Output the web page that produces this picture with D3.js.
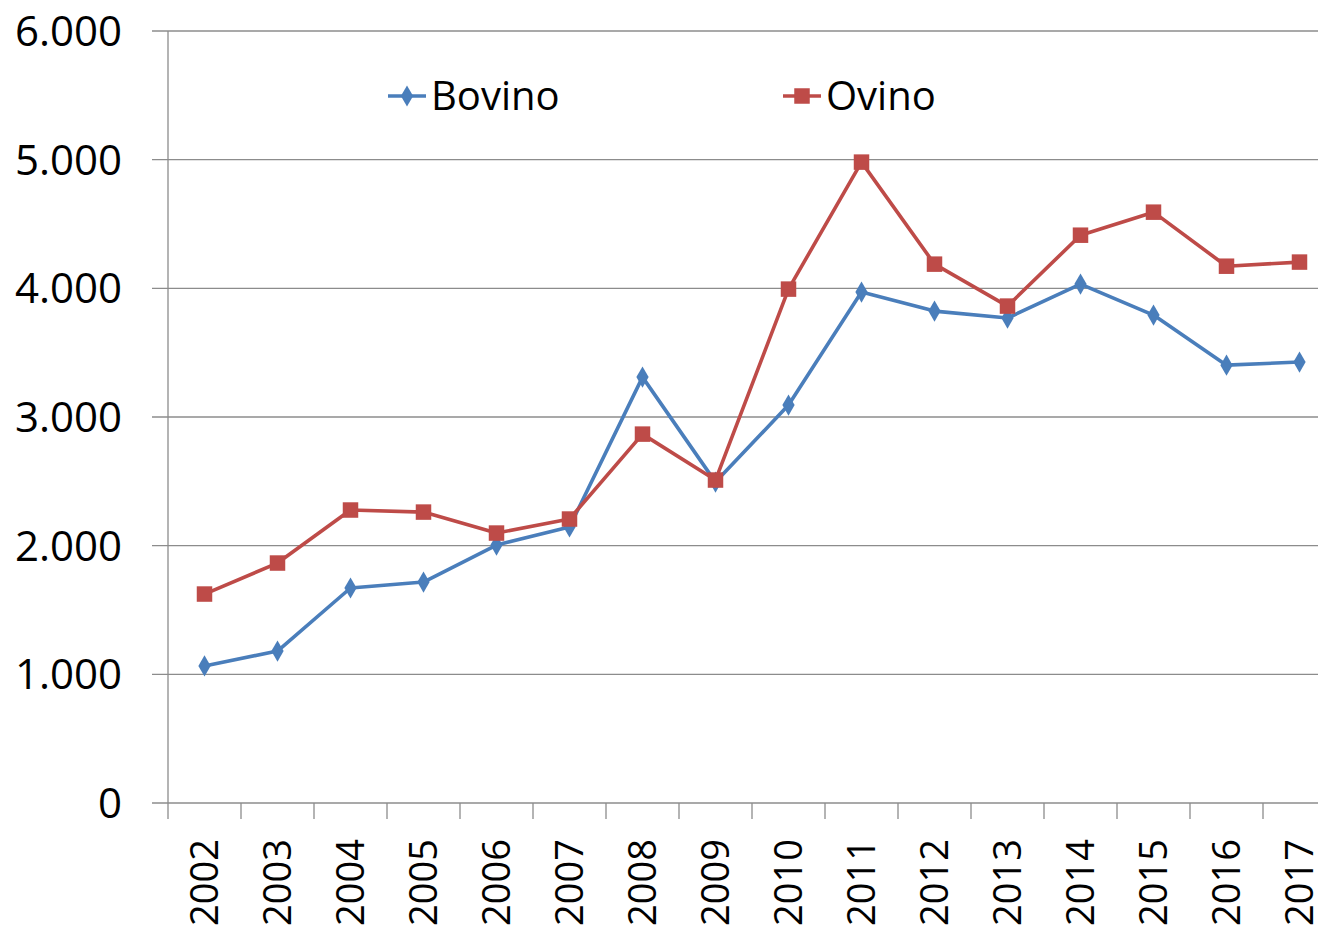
<!DOCTYPE html>
<html><head><meta charset="utf-8">
<script src="https://cdn.jsdelivr.net/npm/d3@7"></script>
<style>body{margin:0;background:#fff}svg{display:block}</style>
</head><body>
<svg id="c" width="1318" height="932"></svg>
<script>
const years = ["2002","2003","2004","2005","2006","2007","2008","2009","2010","2011","2012","2013","2014","2015","2016","2017"];
const bovino = [1065,1181,1671,1717,2005,2145,3310,2494,3093,3971,3823,3769,4033,3792,3403,3427];
const ovino = [1624,1865,2277,2261,2098,2207,2867,2510,3994,4981,4188,3862,4413,4592,4172,4204];
const yTicks = [0,1000,2000,3000,4000,5000,6000];
const seriesNames = ["Bovino","Ovino"];

const svg = d3.select("#c");
const font = "'Open Sans', sans-serif";
const blue = "#4A7EBB", red = "#BE4B48";
const x = d3.scaleBand().domain(years).range([168, 168 + 16*73]);
const y = d3.scaleLinear().domain([0,6000]).range([803, 31]);

svg.append("g").selectAll("line").data(yTicks).join("line")
  .attr("x1", 152).attr("x2", 1318)
  .attr("y1", d=>y(d)).attr("y2", d=>y(d))
  .attr("stroke", "#8c8c8c").attr("stroke-width", 1.3);

svg.append("line").attr("x1",168).attr("x2",168).attr("y1",y(6000)).attr("y2",y(0))
  .attr("stroke","#8c8c8c").attr("stroke-width",1.3);
const fmt = d => d === 0 ? "0" : d3.format(",")(d).replace(/,/g, ".");
svg.append("g").selectAll("text").data(yTicks).join("text")
  .attr("x", 122).attr("y", d=>y(d)).attr("dy","0.36em")
  .attr("text-anchor","end").attr("font-family",font).attr("font-size",42)
  .attr("fill","#000").text(fmt);

const tickPos = d3.range(17).map(i => 168 + i*73);
svg.append("g").selectAll("line").data(tickPos).join("line")
  .attr("x1", d=>d).attr("x2", d=>d).attr("y1", 803).attr("y2", 819)
  .attr("stroke","#8c8c8c").attr("stroke-width",1.3);
svg.append("g").selectAll("text").data(years).join("text")
  .attr("transform", d=>`translate(${x(d)+x.bandwidth()/2+13},926) rotate(-90)`)
  .attr("font-family",font).attr("font-size",38).attr("fill","#000").text(d=>d);

const line = d3.line().x((d,i)=>x(years[i])+x.bandwidth()/2).y(d=>y(d));
function drawSeries(data, color, shape) {
  svg.append("path").datum(data).attr("d", line).attr("fill","none")
    .attr("stroke", color).attr("stroke-width", 3.6).attr("stroke-linejoin","round");
  svg.append("g").selectAll("path").data(data).join("path")
    .attr("transform",(d,i)=>`translate(${x(years[i])+x.bandwidth()/2},${y(d)})`)
    .attr("d", d3.symbol().type(shape).size(shape===d3.symbolSquare?240:130))
    .attr("fill", color);
}
drawSeries(bovino, blue, d3.symbolDiamond);
drawSeries(ovino, red, d3.symbolSquare);

const legend = [{name:seriesNames[0], color:blue, shape:d3.symbolDiamond, x:388},
                {name:seriesNames[1], color:red, shape:d3.symbolSquare, x:783}];
legend.forEach(l=>{
  const g = svg.append("g");
  g.append("line").attr("x1",l.x).attr("x2",l.x+38).attr("y1",96).attr("y2",96)
    .attr("stroke",l.color).attr("stroke-width",3.6);
  g.append("path").attr("transform",`translate(${l.x+19},96)`)
    .attr("d", d3.symbol().type(l.shape).size(l.shape===d3.symbolSquare?240:130)).attr("fill",l.color);
  g.append("text").attr("x",l.x+43).attr("y",96).attr("dy","0.36em")
    .attr("font-family",font).attr("font-size",40).attr("fill","#000").text(l.name);
});
</script>
</body></html>
